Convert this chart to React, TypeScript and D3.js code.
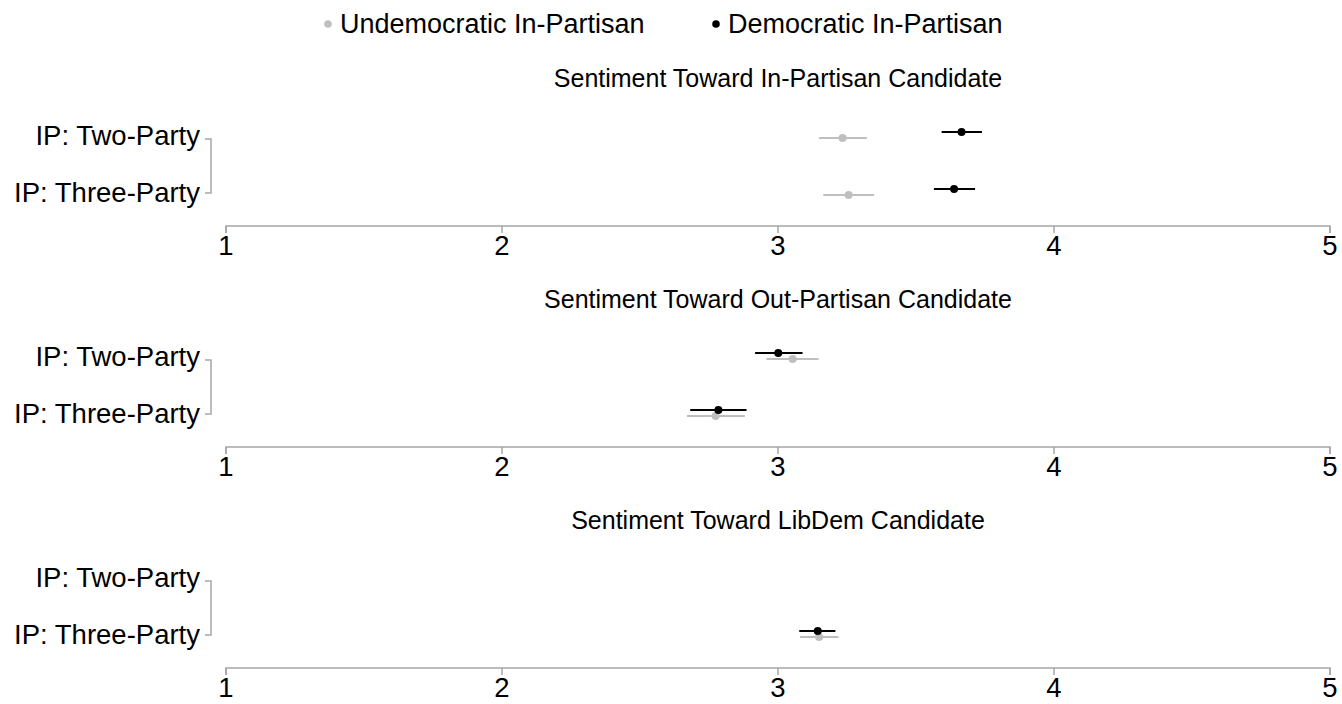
import * as React from 'react';
import * as d3 from 'd3';

const width = 1342;
const height = 704;

const panels = [
  'Sentiment Toward In-Partisan Candidate',
  'Sentiment Toward Out-Partisan Candidate',
  'Sentiment Toward LibDem Candidate',
];
const conditions = ['IP: Two-Party', 'IP: Three-Party'];
const groups = ['Undemocratic In-Partisan', 'Democratic In-Partisan'];
const groupColors = ['#bfbfbf', '#000000'];
const ticks = [1, 2, 3, 4, 5];

// estimates: [panel, condition, group, mean, lo, hi]
const estimates: [number, number, number, number, number, number][] = [
  [0, 0, 0, 3.234, 3.149, 3.322],
  [0, 0, 1, 3.665, 3.593, 3.739],
  [0, 1, 0, 3.256, 3.164, 3.348],
  [0, 1, 1, 3.638, 3.565, 3.714],
  [1, 0, 0, 3.053, 2.958, 3.147],
  [1, 0, 1, 3.001, 2.917, 3.089],
  [1, 1, 0, 2.774, 2.670, 2.880],
  [1, 1, 1, 2.784, 2.682, 2.886],
  [2, 1, 0, 3.149, 3.080, 3.219],
  [2, 1, 1, 3.144, 3.077, 3.208],
];

const font = 'Liberation Sans, Arial, sans-serif';

export default function App() {
  const x = d3.scaleLinear().domain([1, 5]).range([226, 1330]);
  // y of each panel's axis line
  const axisYs = d3.scalePoint<number>().domain(d3.range(panels.length)).range([226, 668]);
  // row positions inside a panel, relative to the axis line
  const rowY = d3.scalePoint<string>().domain(conditions).range([-91, -34]);
  const dodge = d3.scalePoint<number>().domain([1, 0]).range([-3, 3]);

  return (
    <svg width={width} height={height} style={{position: 'absolute', left: 0, top: 0}} fontFamily={font}>
      {/* legend */}
      {groups.map((g, i) => {
        const lx = i === 0 ? 328 : 716;
        return (
          <g key={g}>
            <circle cx={lx} cy={24} r={3.8} fill={groupColors[i]} />
            <text x={lx + 12} y={24} dy="0.35em" fontSize={27}>{g}</text>
          </g>
        );
      })}
      {panels.map((title, p) => {
        const axisY = axisYs(p)!;
        return (
          <g key={title}>
            <text x={(x(1) + x(5)) / 2} y={axisY - 148} dy="0.35em" fontSize={25} textAnchor="middle">{title}</text>
            <path d={`M${x(1)},${axisY + 7}V${axisY}H${x(5)}V${axisY + 7}`} fill="none" stroke="#a6a6a6" strokeWidth={1.5} />
            {ticks.map(t => (
              <g key={t}>
                <line x1={x(t)} x2={x(t)} y1={axisY} y2={axisY + 7} stroke="#a6a6a6" strokeWidth={1.5} />
                <text x={x(t)} y={axisY + 19} dy="0.35em" fontSize={27.5} textAnchor="middle">{t}</text>
              </g>
            ))}
            <path
              d={`M205,${axisY + rowY(conditions[0])! + 4}H211V${axisY + rowY(conditions[1])! + 1}H205`}
              fill="none" stroke="#a6a6a6" strokeWidth={1.5} />
            {conditions.map(c => (
              <text key={c} x={200} y={axisY + rowY(c)!} dy="0.35em" fontSize={27.5} textAnchor="end">{c}</text>
            ))}
            {estimates.filter(e => e[0] === p).map((e, i) => {
              const cy = axisY + rowY(conditions[e[1]])! + dodge(e[2])!;
              return (
                <g key={i}>
                  <line x1={x(e[4])} x2={x(e[5])} y1={cy} y2={cy} stroke={groupColors[e[2]]} strokeWidth={2.2} />
                  <circle cx={x(e[3])} cy={cy} r={4} fill={groupColors[e[2]]} />
                </g>
              );
            })}
          </g>
        );
      })}
    </svg>
  );
}
